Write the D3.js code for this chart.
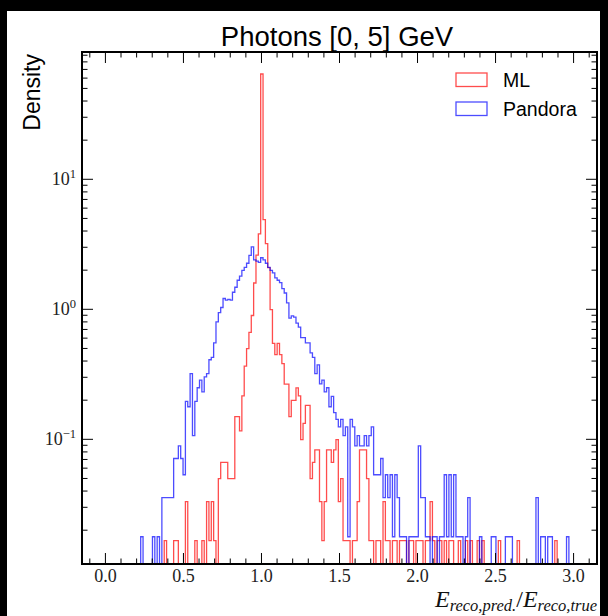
<!DOCTYPE html>
<html><head><meta charset="utf-8">
<script src="https://cdn.jsdelivr.net/npm/d3@7"></script>
<style>html,body{margin:0;padding:0;background:#000;} svg{display:block;}</style>
</head><body>
<svg id="chart" width="608" height="616"></svg>
<script>
const TITLE = "Photons [0, 5] GeV";
const Y_LABEL = "Density";
const SERIES_NAMES = ["ML", "Pandora"];
const SERIES_COLORS = ["#ff0000", "#0000ff"];
const BIN_RANGE = [0, 3];
const N_BINS = 199;
// counts per bin
const ML_COUNTS = [
  0,0,0,0,0,0,0,0,0,0,
  0,0,0,0,0,0,0,0,0,0,
  0,0,0,0,0,1,0,0,0,1,
  1,0,0,0,2,0,0,0,1,0,
  0,1,0,2,1,2,1,0,3,4,
  4,4,3,3,3,9,9,7,13,22,
  30,40,54,96,157,229,3890,295,193,126,
  60,33,27,33,27,23,16,16,9,12,
  12,15,13,6,8,11,11,3,4,5,
  5,2,1,2,5,5,4,5,6,2,
  3,1,1,1,0,1,1,2,5,5,
  5,3,1,1,0,1,1,0,2,1,
  1,0,1,1,0,1,1,1,0,1,
  1,0,1,1,1,0,1,1,2,1,
  0,1,1,0,1,0,1,1,0,0,
  1,0,0,1,0,1,0,0,1,0,
  1,0,0,0,0,0,0,1,0,0,
  0,0,0,0,0,1,0,0,0,0,
  0,0,0,0,0,0,0,0,0,0,
  0,1,0,0,0,0,0,0,0
];
const PANDORA_COUNTS = [
  0,0,0,0,0,0,0,0,0,0,
  0,0,0,0,0,1,0,0,0,0,
  1,0,1,0,2,2,2,2,2,4,
  4,5,4,3,11,10,18,6,11,14,
  16,13,17,18,23,24,31,45,53,58,
  68,66,67,66,76,83,94,101,112,118,
  127,146,170,135,132,129,140,135,127,118,
  112,107,98,94,90,81,75,63,48,50,
  49,44,41,34,34,31,31,26,24,18,
  21,15,16,13,14,10,12,9,8,7,
  8,6,7,1,8,7,5,6,5,5,
  6,5,6,7,3,3,3,4,2,3,
  2,3,1,3,2,1,1,1,0,1,
  1,1,1,5,2,2,1,1,0,1,
  1,0,1,1,3,1,3,1,3,1,
  1,1,0,1,2,0,0,0,0,1,
  0,0,0,0,1,1,0,0,0,0,
  1,1,1,0,0,0,0,0,0,0,
  0,0,0,2,0,1,1,0,1,1,
  0,0,0,0,0,0,1,0,0
];
const ML_DENSITY_PER_COUNT = 0.0166;
const PANDORA_DENSITY_PER_COUNT = 0.0178;
const X_DOMAIN = [-0.15, 3.15];
const Y_DOMAIN = [0.01099, 95.3];
const X_TICKS = [0, 0.5, 1.0, 1.5, 2.0, 2.5, 3.0];
const X_TICK_LABELS = ["0.0", "0.5", "1.0", "1.5", "2.0", "2.5", "3.0"];
const Y_TICKS = [0.1, 1, 10];
const Y_TICK_EXPONENTS = ["\u22121", "0", "1"];

const svg = d3.select("#chart");
const W = 608, H = 616;
const L = 82, R = 597, T = 52, B = 564;

svg.append("rect").attr("x", 0).attr("y", 0).attr("width", W).attr("height", H).attr("fill", "#000");
svg.append("rect").attr("x", 7).attr("y", 11).attr("width", 593).attr("height", H - 11).attr("fill", "#fff");

const x = d3.scaleLinear().domain(X_DOMAIN).range([L, R]);
const y = d3.scaleLog().domain(Y_DOMAIN).range([B, T]);

svg.append("clipPath").attr("id", "plotclip")
  .append("rect").attr("x", L).attr("y", T).attr("width", R - L).attr("height", B - T);

const binW = (BIN_RANGE[1] - BIN_RANGE[0]) / N_BINS;
const edges = d3.range(N_BINS + 1).map(i => BIN_RANGE[0] + i * binW);
const FLOOR = 1e-4;

function stepPoints(counts, k) {
  const pts = [[edges[0], FLOOR]];
  counts.forEach((c, i) => {
    const v = c > 0 ? c * k : FLOOR;
    pts.push([edges[i], v], [edges[i + 1], v]);
  });
  pts.push([edges[N_BINS], FLOOR]);
  return pts;
}
const line = d3.line().x(d => x(d[0])).y(d => y(d[1]));

const g = svg.append("g").attr("clip-path", "url(#plotclip)");
[[ML_COUNTS, ML_DENSITY_PER_COUNT, SERIES_COLORS[0]],
 [PANDORA_COUNTS, PANDORA_DENSITY_PER_COUNT, SERIES_COLORS[1]]].forEach(([c, k, col]) => {
  g.append("path").attr("d", line(stepPoints(c, k)))
    .attr("fill", "none").attr("stroke", col).attr("stroke-opacity", 0.7)
    .attr("stroke-width", 1.3).attr("stroke-linejoin", "miter");
});

// ticks (inward, all four sides)
const tickG = svg.append("g").attr("stroke", "#000").attr("stroke-width", 1);
const xMinor = d3.range(-1, 32).map(i => i / 10).filter(v => !X_TICKS.some(t => Math.abs(t - v) < 1e-9));
X_TICKS.forEach(v => {
  tickG.append("line").attr("x1", x(v)).attr("x2", x(v)).attr("y1", B).attr("y2", B - 11);
  tickG.append("line").attr("x1", x(v)).attr("x2", x(v)).attr("y1", T).attr("y2", T + 11);
});
xMinor.forEach(v => {
  tickG.append("line").attr("x1", x(v)).attr("x2", x(v)).attr("y1", B).attr("y2", B - 5.5);
  tickG.append("line").attr("x1", x(v)).attr("x2", x(v)).attr("y1", T).attr("y2", T + 5.5);
});
const yMinor = [];
[0.01, 0.1, 1, 10].forEach(d => { for (let m = 2; m <= 9; m++) { const v = d * m; if (v > Y_DOMAIN[0] && v < Y_DOMAIN[1]) yMinor.push(v); } });
Y_TICKS.forEach(v => {
  tickG.append("line").attr("x1", L).attr("x2", L + 11).attr("y1", y(v)).attr("y2", y(v));
  tickG.append("line").attr("x1", R).attr("x2", R - 11).attr("y1", y(v)).attr("y2", y(v));
});
yMinor.forEach(v => {
  tickG.append("line").attr("x1", L).attr("x2", L + 5.5).attr("y1", y(v)).attr("y2", y(v));
  tickG.append("line").attr("x1", R).attr("x2", R - 5.5).attr("y1", y(v)).attr("y2", y(v));
});

// frame
svg.append("rect").attr("x", L).attr("y", T).attr("width", R - L).attr("height", B - T)
  .attr("fill", "none").attr("stroke", "#000").attr("stroke-width", 2);

// tick labels
const serif = "'Liberation Serif', 'DejaVu Serif', serif";
X_TICKS.forEach((v, i) => {
  svg.append("text").attr("x", x(v)).attr("y", 582).attr("text-anchor", "middle")
    .attr("font-family", serif).attr("font-size", 18).attr("fill", "#222").text(X_TICK_LABELS[i]);
});
Y_TICKS.forEach((v, i) => {
  const t = svg.append("text").attr("x", 76).attr("y", y(v) + 6).attr("text-anchor", "end")
    .attr("font-family", serif).attr("font-size", 18).attr("fill", "#222");
  t.append("tspan").text("10");
  t.append("tspan").attr("dy", -7).attr("font-size", 12.5).text(Y_TICK_EXPONENTS[i]);
});

const sans = "'Liberation Sans', Arial, sans-serif";
svg.append("text").attr("x", 337).attr("y", 46).attr("text-anchor", "middle")
  .attr("font-family", sans).attr("font-size", 27.5).attr("fill", "#000").text(TITLE);
svg.append("text").attr("transform", `translate(40,${T + 2}) rotate(-90)`).attr("text-anchor", "end")
  .attr("font-family", sans).attr("font-size", 23).attr("fill", "#000").text(Y_LABEL);

// x label
const xl = svg.append("text").attr("x", R).attr("y", 607).attr("text-anchor", "end")
  .attr("font-family", serif).attr("font-style", "italic").attr("font-size", 24).attr("fill", "#111");
xl.append("tspan").text("E");
xl.append("tspan").attr("font-size", 16.5).attr("dy", 3.5).text("reco,pred.");
xl.append("tspan").attr("dy", -3.5).attr("font-style", "normal").text("/");
xl.append("tspan").text("E");
xl.append("tspan").attr("font-size", 16.5).attr("dy", 3.5).text("reco,true");

// legend
const legY = [80, 109];
SERIES_NAMES.forEach((n, i) => {
  svg.append("rect").attr("x", 456).attr("y", legY[i] - 7).attr("width", 31).attr("height", 13.5)
    .attr("fill", "none").attr("stroke", SERIES_COLORS[i]).attr("stroke-opacity", 0.7).attr("stroke-width", 1.3);
  svg.append("text").attr("x", 503).attr("y", legY[i] + 6.5).attr("font-family", sans)
    .attr("font-size", 19.5).attr("fill", "#000").text(n);
});
</script>
</body></html>
